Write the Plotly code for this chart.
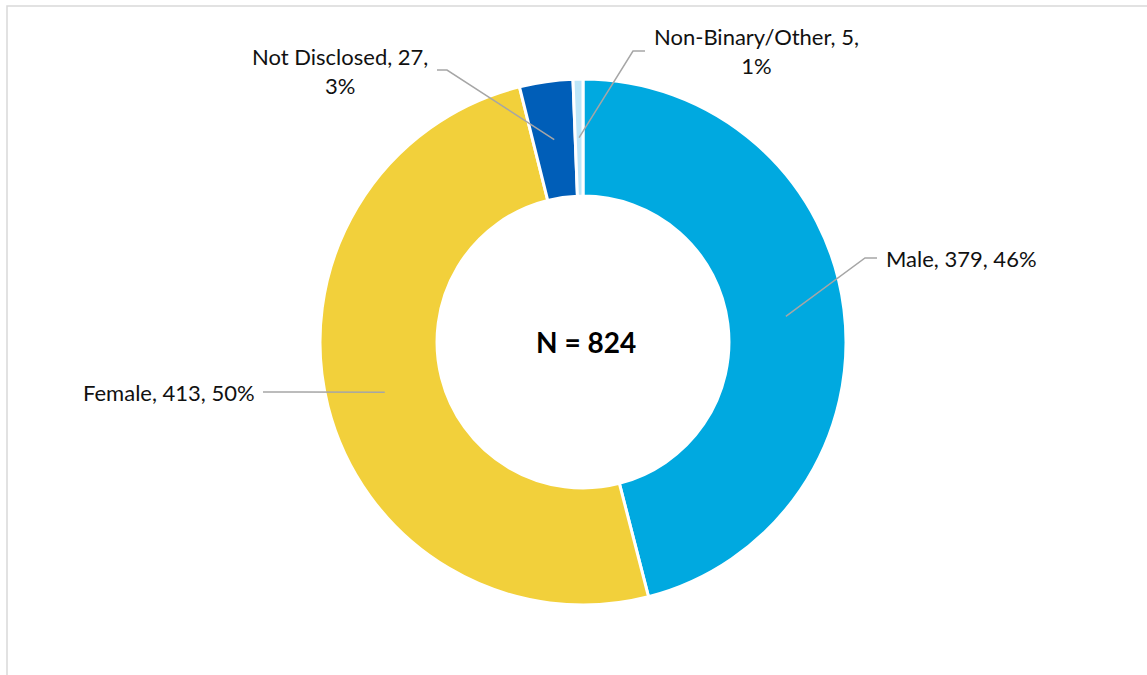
import math
import plotly.graph_objects as go

categories = ["Male", "Female", "Not Disclosed", "Non-Binary/Other"]
counts = [379, 413, 27, 5]
percent_labels = ["46%", "50%", "3%", "1%"]
colors = ["#00A9E0", "#F2D03B", "#005EB8", "#BDE6F8"]

W, H = 1147, 675
OFF = 0  # page body margin removed below
CX, CY = 583, 342
R_OUT, HOLE = 263, 0.555
FONT = "Lato"
FS = 22


def px(x):
    return (x - OFF) / W


def py(y):
    return 1 - (y - OFF) / H


fig = go.Figure(go.Pie(
    labels=categories, values=counts, sort=False, direction="clockwise", rotation=0,
    hole=HOLE, textinfo="none", hoverinfo="label+value+percent",
    marker=dict(colors=colors, line=dict(color="white", width=3)),
    domain=dict(x=[px(CX - R_OUT), px(CX + R_OUT)], y=[py(CY + R_OUT), py(CY - R_OUT)]),
    showlegend=False,
))

total = sum(counts)
r_mid = R_OUT * (1 + HOLE) / 2
cum = 0
points = []
for c in counts:
    mid = (cum + c / 2) / total * 2 * math.pi
    points.append((CX + r_mid * math.sin(mid), CY - r_mid * math.cos(mid)))
    cum += c

# label layout: (elbow, end of line, text anchor point, xanchor, text)
layout_spec = [
    ((865, 258), (877, 258), (884, 258), "left", f"{categories[0]}, {counts[0]}, {percent_labels[0]}"),
    ((300, 392), (263, 392), (257, 392), "right", f"{categories[1]}, {counts[1]}, {percent_labels[1]}"),
    ((447, 70), (437, 70), (430, 71), "right", f"{categories[2]}, {counts[2]},<br>{percent_labels[2]}"),
    ((633, 51), (645, 51), (652, 51), "left", f"{categories[3]}, {counts[3]},<br>{percent_labels[3]}"),
]

shapes = [dict(type="rect", xref="paper", yref="paper", x0=px(7), x1=px(W + 40), y0=py(H + 40), y1=py(6),
               line=dict(color="#D9D9D9", width=1.5), fillcolor="rgba(0,0,0,0)", layer="below")]
annotations = []
for (pt, (elb, end, tpos, xa, txt)) in zip(points, layout_spec):
    path = f"M {px(pt[0])},{py(pt[1])} L {px(elb[0])},{py(elb[1])} L {px(end[0])},{py(end[1])}"
    shapes.append(dict(type="path", xref="paper", yref="paper", path=path,
                       line=dict(color="#A6A6A6", width=1.5), layer="above"))
    annotations.append(dict(x=px(tpos[0]), y=py(tpos[1]), xref="paper", yref="paper", text=txt,
                            showarrow=False, xanchor=xa, yanchor="middle", align="center",
                            font=dict(family=FONT, size=FS, color="#111111")))

annotations.append(dict(x=px(586), y=py(342), xref="paper", yref="paper", text=f"<b>N = {total}</b>",
                        showarrow=False, xanchor="center", yanchor="middle",
                        font=dict(family=FONT, size=28, color="#000000")))

fig.update_layout(width=W, height=H, margin=dict(l=0, r=0, t=0, b=0),
                  paper_bgcolor="white", plot_bgcolor="white",
                  shapes=shapes, annotations=annotations)

fig.write_html("out.html", config={"displayModeBar": False},
               post_script="document.body.style.margin='0px';")
